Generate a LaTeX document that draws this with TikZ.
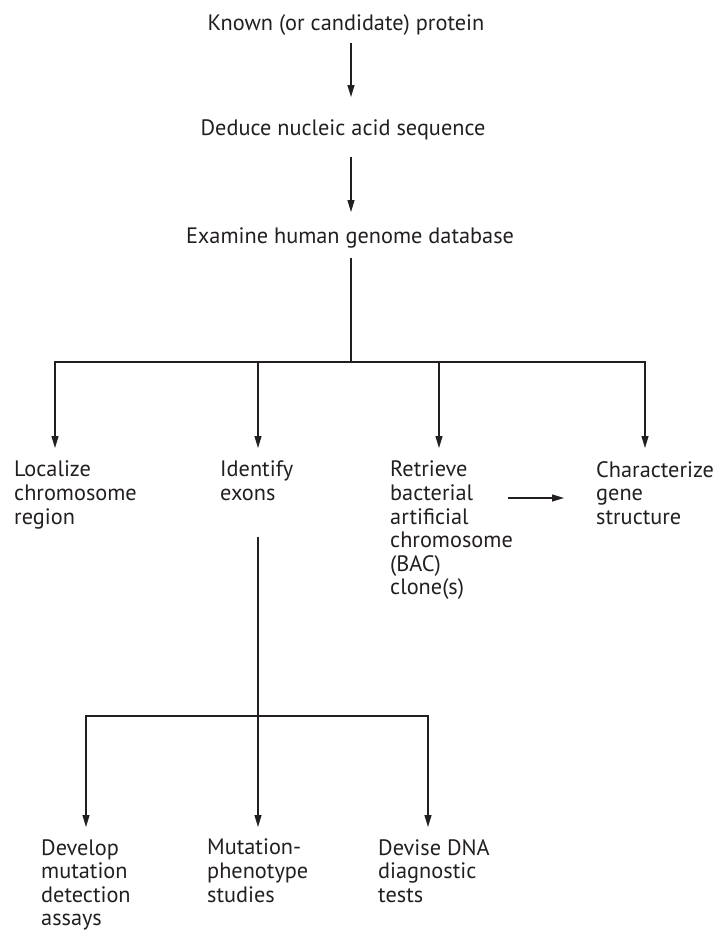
\documentclass[tikz,border=0pt]{standalone}
\usepackage{fontspec}
\setmainfont{PT Sans}
\usetikzlibrary{arrows.meta}
\definecolor{ink}{HTML}{231F20}

\begin{document}
\begin{tikzpicture}[x=1pt,y=-1pt,font=\fontsize{22.3}{23.6}\selectfont,
	headline/.style={inner sep=0pt,anchor=base,text=ink},
	txt/.style={inner sep=0pt,align=left,anchor=north west,text=ink},
	ln/.style={draw=ink,line width=1.1pt},
	arr/.style={ln,-{Triangle[length=12pt,width=7pt]}}]
	\useasboundingbox (0,0) rectangle (718,932);
	% main chain
	\node[headline] (protein) at (346,30) {Known (or candidate) protein};
	\node[headline] (deduce) at (343,135) {Deduce nucleic acid sequence};
	\node[headline] (genome) at (350,243) {Examine human genome database};
	\coordinate (split) at (351,362);
	\draw[arr,shorten <=8pt,shorten >=22pt] (protein.south -| split) -- (deduce.north -| split);
	\draw[arr,shorten <=17pt,shorten >=15pt] (deduce.south -| split) -- (genome.north -| split);
	% first branch
	\node[txt] (localize) at (14,461) {Localize\\chromosome\\region};
	\node[txt] (exons) at (220,461) {Identify\\exons};
	\node[txt] (bac) at (390,461) {Retrieve\\bacterial\\artificial\\chromosome\\(BAC)\\clone(s)};
	\node[txt] (structure) at (596,461) {Characterize\\gene\\structure};
	\coordinate (localize-in) at (55,448);
	\coordinate (exons-in) at (258,448);
	\coordinate (bac-in) at (439,448);
	\coordinate (structure-in) at (645,448);
	\draw[ln,shorten <=10pt] (genome.south -| split) -- (split);
	\foreach \t in {localize-in,exons-in,bac-in,structure-in}
		\draw[arr] (split) -| (\t);
	\coordinate (bac-out) at (508,498);
	\coordinate (structure-side) at (564,498);
	\draw[arr] (bac-out) -- (structure-side);
	% second branch
	\node[txt] (assays) at (41,839) {Develop\\mutation\\detection\\assays};
	\node[txt] (phenotype) at (207,839) {Mutation-\\phenotype\\studies};
	\node[txt] (diagnostic) at (378,839) {Devise DNA\\diagnostic\\tests};
	\coordinate (split2) at (258,716);
	\coordinate (assays-in) at (86,827);
	\coordinate (phenotype-in) at (258,827);
	\coordinate (diagnostic-in) at (428,827);
	\path (split2 |- exons.south) ++(0,36) coordinate (exons-out);
	\draw[ln] (exons-out) -- (split2);
	\foreach \t in {assays-in,phenotype-in,diagnostic-in}
		\draw[arr] (split2) -| (\t);
\end{tikzpicture}
\end{document}
